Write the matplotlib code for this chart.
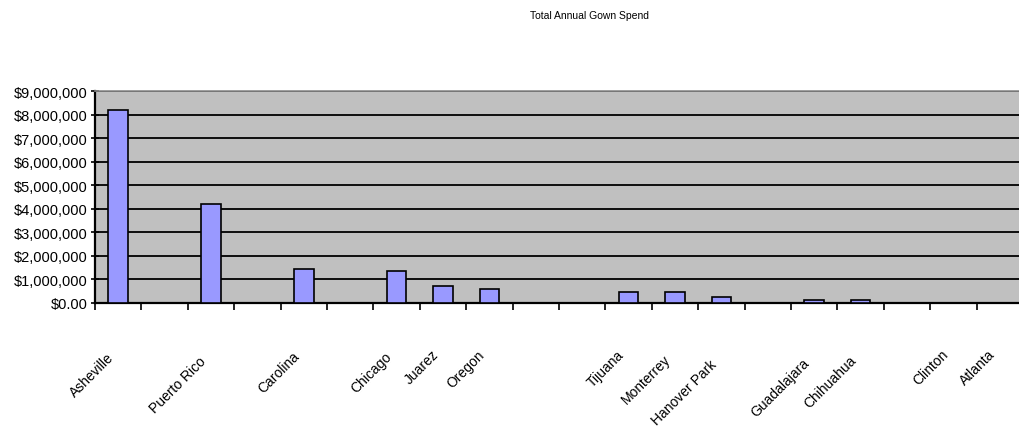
import matplotlib
matplotlib.use("Agg")
import matplotlib.pyplot as plt
from matplotlib.ticker import FixedLocator, FuncFormatter
from matplotlib.transforms import blended_transform_factory, ScaledTranslation
import numpy as np

plt.rcParams['font.family'] = ['Liberation Sans', 'DejaVu Sans']

title = "Total Annual Gown Spend"
locations = ["Asheville", "", "Puerto Rico", "", "Carolina", "", "Chicago", "Juarez",
             "Oregon", "", "", "Tijuana", "Monterrey", "Hanover Park", "",
             "Guadalajara", "Chihuahua", "", "Clinton", "Atlanta"]
spend = [8190000, 0, 4220000, 0, 1440000, 0, 1370000, 710000,
         600000, 0, 0, 450000, 450000, 250000, 0,
         140000, 140000, 0, 0, 0]
y_ticks = [0, 1000000, 2000000, 3000000, 4000000, 5000000,
           6000000, 7000000, 8000000, 9000000]

W, H = 1019, 431
DPI = 100
fig = plt.figure(figsize=(W / DPI, H / DPI), dpi=DPI)
ax = fig.add_axes([95 / W, (H - 304) / H, 928 / W, 212 / H])
ax.set_facecolor("#c0c0c0")

x = np.arange(len(locations))
ax.bar(x, spend, width=0.42, color="#9999ff", edgecolor="black",
       linewidth=1.2, zorder=3)

ax.set_xlim(-0.5, len(locations) - 0.5)
ax.set_ylim(0, 9000000)

ax.yaxis.set_major_locator(FixedLocator(y_ticks))
ax.yaxis.set_major_formatter(
    FuncFormatter(lambda v, p: "$0.00" if v == 0 else "${:,.0f}".format(v)))
ax.grid(axis="y", color="black", linewidth=1.3, zorder=1)
ax.set_axisbelow(True)

# category boundaries carry the tick marks; names are placed separately
ax.set_xticks(x)
ax.set_xticklabels([])
ax.set_xticks(np.arange(len(locations) + 1) - 0.5, minor=True)
ax.tick_params(axis="x", which="major", length=0)
ax.tick_params(axis="x", which="minor", length=5, width=1.2, direction="out",
               color="black")
ax.tick_params(axis="y", which="major", length=6, width=1.2, direction="inout",
               labelsize=10.5, pad=2, color="black")

for side in ("left", "bottom"):
    ax.spines[side].set_color("black")
    ax.spines[side].set_linewidth(1.6)
ax.spines["top"].set_color("#8c8c8c")
ax.spines["top"].set_linewidth(1.2)
ax.spines["right"].set_visible(False)

# rotated category names, longer names sit a little lower
base = blended_transform_factory(ax.transData, ax.transAxes)
renderer = fig.canvas.get_renderer()
for i, name in enumerate(locations):
    if not name:
        continue
    t = ax.text(i, 0, name, rotation=45, ha="right", va="center",
                rotation_mode="anchor", fontsize=10, transform=base)
    bb = t.get_window_extent(renderer)
    length = bb.width * np.sqrt(2) - 11
    dx = -7 / DPI
    dy = -(37 + 0.25 * length) / DPI
    t.set_transform(base + ScaledTranslation(dx, dy, fig.dpi_scale_trans))

fig.text(590 / W, 1 - 16 / H, title, ha="center", va="center", fontsize=7.5)

fig.savefig("out.png", dpi=DPI)
